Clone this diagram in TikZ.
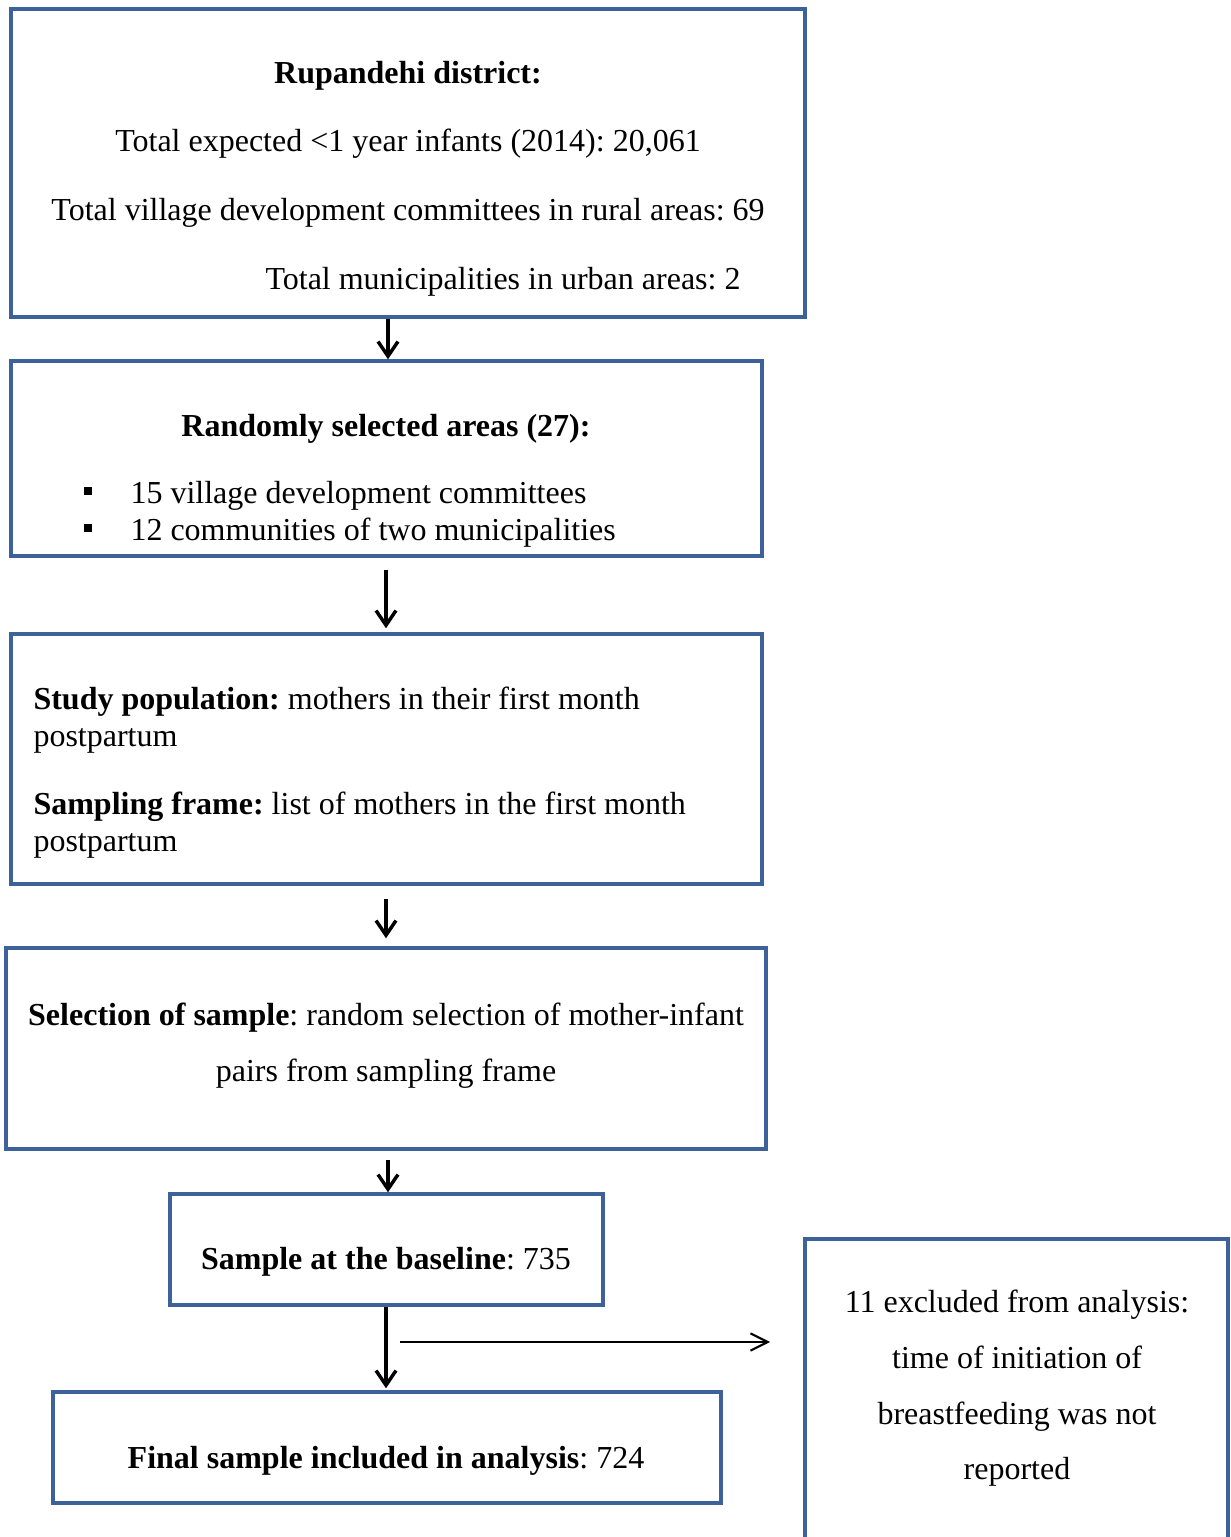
\documentclass[tikz,border=0pt]{standalone}
\usepackage{fontspec}
\setmainfont{Liberation Serif}
\usetikzlibrary{arrows.meta,fit}
\definecolor{boxblue}{HTML}{3D6199}
\tikzset{
 box/.style={draw=boxblue, line width=1.3pt, inner sep=0pt},
 txt/.style={anchor=base, inner sep=0pt, font=\fontsize{12}{14}\selectfont\frenchspacing},
 txtl/.style={txt, anchor=base west},
 arr/.style={-{Straight Barb[length=5.5pt,width=7.5pt,line width=1.3pt]}, line width=1.4pt},
 thinarr/.style={-{Straight Barb[length=6.5pt,width=6.5pt,line width=0.8pt]}, line width=0.8pt},
 bulletsq/.style={fill=black, minimum size=3.2pt, inner sep=0pt}
}
\begin{document}
\begin{tikzpicture}[x=0.375pt, y=-0.375pt]
\useasboundingbox (0,0) rectangle (1230,1537);
\clip (0,0) rectangle (1230,1537);
% corner coordinates
\coordinate (c1a) at (11,9);   \coordinate (c1b) at (805,317);
\coordinate (c2a) at (11,361); \coordinate (c2b) at (762,556);
\coordinate (c3a) at (11,634); \coordinate (c3b) at (762,884);
\coordinate (c4a) at (6,948);  \coordinate (c4b) at (766,1149);
\coordinate (c5a) at (170,1194); \coordinate (c5b) at (603,1305);
\coordinate (c6a) at (53,1392);  \coordinate (c6b) at (721,1503);
\coordinate (c7a) at (805,1239); \coordinate (c7b) at (1228,1570);
% boxes
\node[box, fit=(c1a)(c1b)] (b1) {};
\node[box, fit=(c2a)(c2b)] (b2) {};
\node[box, fit=(c3a)(c3b)] (b3) {};
\node[box, fit=(c4a)(c4b)] (b4) {};
\node[box, fit=(c5a)(c5b)] (b5) {};
\node[box, fit=(c6a)(c6b)] (b6) {};
\node[box, fit=(c7a)(c7b)] (b7) {};
% box 1 text
\node[txt] (t1a) at (408,84) {\textbf{Rupandehi district:}};
\node[txt] (t1b) at (408,152) {Total expected <1 year infants (2014): 20,061};
\node[txt] (t1c) at (408,221) {Total village development committees in rural areas: 69};
\node[txt] (t1d) at (503,289) {Total municipalities in urban areas: 2};
% box 2 text
\node[txt] (t2a) at (386,436) {\textbf{Randomly selected areas (27):}};
\node[bulletsq] (bu1) at (88,491) {};
\node[bulletsq] (bu2) at (88,528) {};
\node[txtl] (t2b) at (130,503) {15 village development committees};
\node[txtl] (t2c) at (130,540) {12 communities of two municipalities};
% box 3 text
\node[txtl] (t3a) at (33,709) {\textbf{Study population:} mothers in their first month};
\node[txtl] (t3b) at (33,746) {postpartum};
\node[txtl] (t3c) at (33,814) {\textbf{Sampling frame:} list of mothers in the first month};
\node[txtl] (t3d) at (33,851) {postpartum};
% box 4 text
\node[txt] (t4a) at (386,1025) {\textbf{Selection of sample}: random selection of mother-infant};
\node[txt] (t4b) at (386,1081) {pairs from sampling frame};
% box 5, 6 text
\node[txt] (t5) at (386,1269) {\textbf{Sample at the baseline}: 735};
\node[txt] (t6) at (386,1468) {\textbf{Final sample included in analysis}: 724};
% box 7 text
\node[txt] (t7a) at (1017,1312) {11 excluded from analysis:};
\node[txt] (t7b) at (1017,1368) {time of initiation of};
\node[txt] (t7c) at (1017,1424) {breastfeeding was not};
\node[txt] (t7d) at (1017,1479) {reported};
% arrows
\coordinate (xa) at (388,0);
\coordinate (xb) at (386,0);
\coordinate (h) at (400,1342);
\draw[arr] (b1.south -| xa) -- (b2.north -| xa);
\draw[arr, shorten <=4.5pt, shorten >=1.5pt] (b2.south -| xb) -- (b3.north -| xb);
\draw[arr, shorten <=4.9pt, shorten >=3pt] (b3.south -| xb) -- (b4.north -| xb);
\draw[arr, shorten <=3.4pt] (b4.south -| xa) -- (b5.north -| xa);
\draw[arr, shorten >=0.75pt] (b5.south -| xb) -- (b6.north -| xb);
\draw[thinarr, shorten >=12.4pt] (h) -- (b7.west |- h);
\end{tikzpicture}
\end{document}
